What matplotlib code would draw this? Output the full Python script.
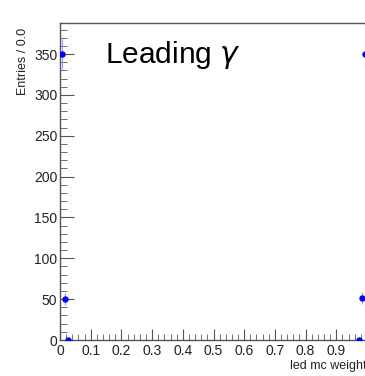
import numpy as np
import matplotlib
matplotlib.use("Agg")
import matplotlib.pyplot as plt
from matplotlib.ticker import MultipleLocator

plt.rcParams['font.family'] = ['Liberation Sans', 'DejaVu Sans']

# bin centres and contents (width 0.01)
weight = [0.005, 0.015, 0.025, 0.975, 0.985, 0.995]
entries = [350, 50, 0, 0, 51, 350]
bin_half = 0.005

W, H = 365, 376
fig = plt.figure(figsize=(W / 100, H / 100), dpi=100)
ax = fig.add_axes([60 / W, 36 / H, 307 / W, 317 / H])

y = np.array(entries, dtype=float)
ax.errorbar(weight, y, yerr=np.sqrt(y), xerr=bin_half, fmt='none',
            ecolor='#9a9aff', elinewidth=0.8, capsize=0, zorder=2)
ax.plot(weight, y, 'o', color='#0000ff', markersize=3.6, zorder=3)

ax.set_xlim(0, 1.0)
ax.set_ylim(0, 388)

ax.xaxis.set_minor_locator(MultipleLocator(0.02))
ax.yaxis.set_major_locator(MultipleLocator(50))
ax.yaxis.set_minor_locator(MultipleLocator(10))
ax.set_xticks(np.arange(0, 0.95, 0.1))
ax.set_xticklabels(['0'] + ['%.1f' % v for v in np.arange(0.1, 0.95, 0.1)])

for s in ['left', 'top', 'bottom']:
    ax.spines[s].set_color('#555555')
    ax.spines[s].set_linewidth(1.0)
ax.spines['right'].set_visible(False)

ax.tick_params(axis='both', which='both', direction='in', colors='#555555',
               labelcolor='#222222', labelsize=10)
ax.tick_params(axis='x', which='major', length=8, pad=3)
ax.tick_params(axis='x', which='minor', length=4)
ax.tick_params(axis='y', which='major', length=10, pad=2)
ax.tick_params(axis='y', which='minor', length=5)

ax.text(0.147, 0.90, r'Leading $\gamma$', transform=ax.transAxes,
        fontsize=21.5, ha='left', va='center', color='black')

fig.text(23 / W, 1 - 28 / H, 'Entries / 0.0', rotation=90, ha='center',
         va='top', fontsize=9, color='#222222')
fig.text(367 / W, 10 / H, 'led mc weight', ha='right', va='center',
         fontsize=9, color='#222222')

fig.savefig('out.png', dpi=100)
